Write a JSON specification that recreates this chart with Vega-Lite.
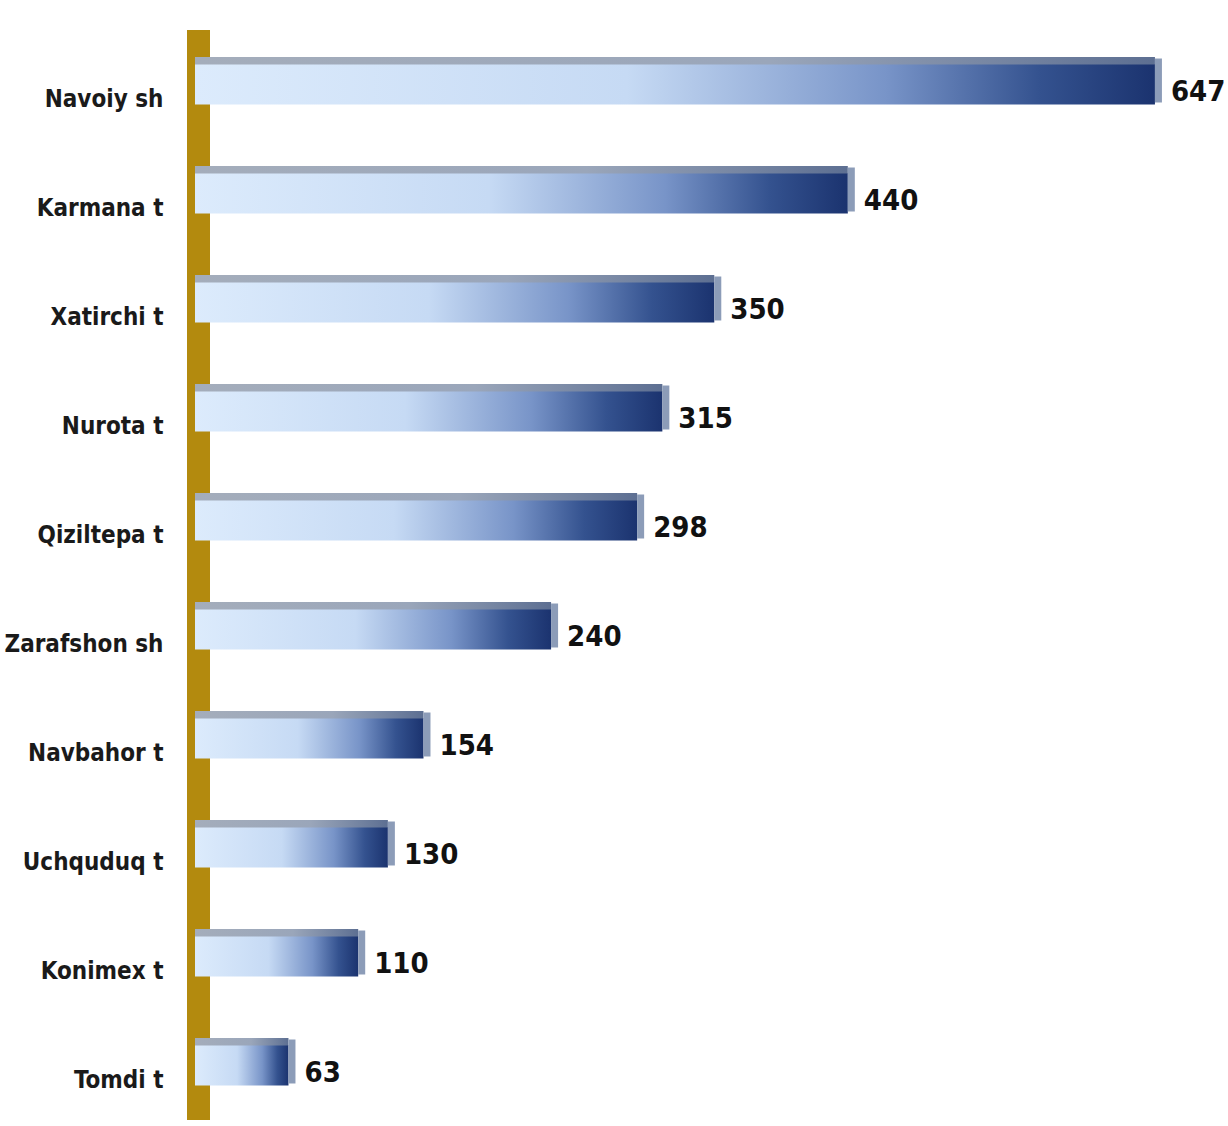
{
  "$schema": "https://vega.github.io/schema/vega-lite/v6.json",
  "autosize": {"type": "none"},
  "padding": {"left": 195, "top": 30, "right": 33, "bottom": 6},
  "width": 1000,
  "height": 1090,
  "background": "white",
  "data": {"values": [
    {"name": "Navoiy sh", "value": 647},
    {"name": "Karmana t", "value": 440},
    {"name": "Xatirchi t", "value": 350},
    {"name": "Nurota t", "value": 315},
    {"name": "Qiziltepa t", "value": 298},
    {"name": "Zarafshon sh", "value": 240},
    {"name": "Navbahor t", "value": 154},
    {"name": "Uchquduq t", "value": 130},
    {"name": "Konimex t", "value": 110},
    {"name": "Tomdi t", "value": 63}
  ]},
  "encoding": {
    "y": {
      "field": "name", "type": "nominal", "sort": null,
      "scale": {"paddingInner": 0.56, "paddingOuter": 0.28},
      "axis": {
        "title": null, "domain": false, "ticks": false, "labelPadding": 32, "labelLimit": 400,
        "labelFont": "DejaVu Sans Condensed",
        "labelFontSize": 24, "labelFontWeight": "bold", "labelColor": "#1a1a1a",
        "labelBaseline": "middle", "labelOffset": 15
      }
    }
  },
  "layer": [
    {
      "mark": {"type": "rule", "color": "#b38a0e", "strokeWidth": 23, "xOffset": 3.5},
      "encoding": {"x": {"datum": 0, "type": "quantitative", "scale": {"domain": [0, 674], "nice": false}, "axis": null}, "y": null}
    },
    {
      "mark": {
        "type": "bar", "height": {"band": 0.167}, "yOffset": -23.5,
        "color": {"gradient": "linear", "x1": 0, "x2": 1, "y1": 0, "y2": 0,
          "stops": [{"offset": 0, "color": "#a4adbb"}, {"offset": 0.6, "color": "#9aa6ba"}, {"offset": 1, "color": "#5d6f92"}]}
      },
      "encoding": {"x": {"field": "value", "type": "quantitative", "scale": {"domain": [0, 674], "nice": false}, "axis": null}}
    },
    {
      "mark": {
        "type": "bar", "height": {"band": 0.833},
        "color": {"gradient": "linear", "x1": 0, "x2": 1, "y1": 0, "y2": 0,
          "stops": [{"offset": 0, "color": "#dcebfc"}, {"offset": 0.45, "color": "#c6daf4"}, {"offset": 0.72, "color": "#7894c8"}, {"offset": 0.88, "color": "#34528f"}, {"offset": 1, "color": "#1b336f"}]}
      },
      "encoding": {"x": {"field": "value", "type": "quantitative", "scale": {"domain": [0, 674], "nice": false}, "axis": null}}
    },
    {
      "mark": {"type": "tick", "orient": "vertical", "color": "#8c9cb8", "thickness": 7, "size": 44, "xOffset": 3.5, "yOffset": -4, "opacity": 1},
      "encoding": {"x": {"field": "value", "type": "quantitative", "scale": {"domain": [0, 674], "nice": false}, "axis": null}}
    },
    {
      "mark": {
        "type": "text", "align": "left", "baseline": "middle", "dx": 16, "dy": 7,
        "font": "DejaVu Sans Condensed",
        "fontSize": 29, "fontWeight": "bold", "color": "#111111"
      },
      "encoding": {
        "x": {"field": "value", "type": "quantitative", "scale": {"domain": [0, 674], "nice": false}, "axis": null},
        "text": {"field": "value", "type": "quantitative"}
      }
    }
  ],
  "config": {"view": {"stroke": null}}
}
